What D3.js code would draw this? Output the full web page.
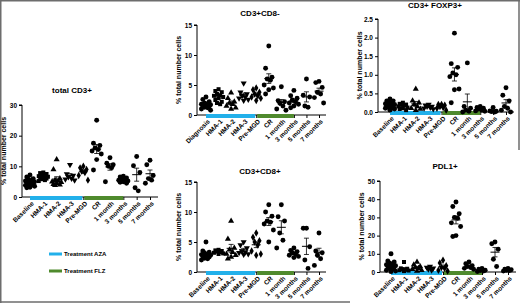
<!DOCTYPE html>
<html>
<head>
<meta charset="utf-8">
<script src="https://cdn.jsdelivr.net/npm/d3@7"></script>
<style>
  body { margin: 0; background: #fff; }
  svg { font-family: "Liberation Sans", Arial, sans-serif; }
</style>
</head>
<body>
<svg id="chart" width="520" height="303"></svg>
<script>
// categories
const catsBaseline = ["Baseline", "HMA-1", "HMA-2", "HMA-3", "Pre-MGD", "CR", "1 month", "3 months", "5 months", "7 months"];
const catsDiagnosis = ["Diagnosis", "HMA-1", "HMA-2", "HMA-3", "Pre-MGD", "CR", "1 month", "3 months", "5 months", "7 months"];

// values, one array per category
const totalCD3 = [
    [7.2, 6.5, 6, 5.5, 5.2, 5, 4.8, 4.5, 4.2, 4, 3.8, 3.5, 3.2, 3, 5.8, 4.6],
    [8, 7.5, 7.2, 7, 6.8, 6.5, 6.2, 6, 5.8, 5.5, 5.2, 6.6, 7.8],
    [12.2, 9, 6, 5.5, 5, 4.8, 4.5, 4.2, 4, 5.2, 3.8],
    [10.5, 7, 6.5, 6, 5.8, 5.5, 7.5],
    [10, 9.5, 9, 8.5, 8, 7, 5.5],
    [25, 17.5, 16.8, 16, 15.5, 15, 14, 12.2, 8.8],
    [12.8, 11, 10.5, 10, 9.5, 5],
    [6.8, 6.5, 6, 5.8, 5.5, 5.2, 5, 4.8, 4.5, 6.2],
    [13.2, 10.2, 8, 3, 2],
    [12, 10.5, 7, 6, 5.5, 4.5]
];
const cd8neg = [
    [3, 2.6, 2.2, 2, 1.8, 1.6, 1.5, 1.4, 1.2, 1, 0.8, 1.9, 1.7, 1.3],
    [4.3, 4, 3.8, 3.5, 3.2, 3, 2.8, 2.5, 2.2, 2, 1.8, 3.3],
    [3.7, 2.8, 2.2, 2, 1.8, 1.5, 1.2, 1],
    [5.3, 3.8, 3.5, 3.2, 3, 2.8, 2.6, 2.4],
    [4.5, 4.2, 3.8, 3.5, 3.2, 3, 2.8, 2.4],
    [11.5, 7.8, 6.3, 6, 5.8, 5, 4.5, 4.2, 3.5],
    [4.7, 2.4, 2.2, 2, 1.5, 1, 0.8],
    [4.1, 3.2, 2.8, 2.5, 2.2, 2, 1.8, 1.5, 1.2],
    [6, 3.3, 3, 1.5, 1.3],
    [5.6, 5.4, 4.6, 3.8, 3.5, 2.9, 2]
];
const foxp3 = [
    [0.35, 0.3, 0.28, 0.25, 0.22, 0.2, 0.18, 0.15, 0.12, 0.1, 0.08, 0.05, 0.3, 0.2, 0.1],
    [0.25, 0.22, 0.2, 0.18, 0.15, 0.12, 0.1, 0.08, 0.05, 0.2],
    [0.62, 0.3, 0.25, 0.2, 0.15, 0.1, 0.08, 0.05],
    [0.2, 0.18, 0.15, 0.12, 0.1, 0.08, 0.15],
    [0.2, 0.18, 0.15, 0.12, 0.1, 0.2, 0.05],
    [2.12, 1.3, 1.2, 1.05, 1.0, 0.95, 0.62, 0.6, 0.25],
    [1.32, 0.15, 0.1, 0.05, 0.02, 0.0],
    [0.15, 0.12, 0.08, 0.05, 0.03, 0.02, 0.1],
    [0.12, 0.03, 0.02, 0.01, 0],
    [0.65, 0.45, 0.3, 0.15, 0.1, 0.05, 0.0]
];
const cd8pos = [
    [5, 3.5, 3.2, 3, 2.8, 2.6, 2.5, 2.3, 2.2, 2, 3.3, 2.7, 2.9],
    [3.7, 3.5, 3.4, 3.3, 3.2, 3.1, 3, 3.6],
    [8.5, 5.5, 4, 3.7, 3.3, 3, 2.8, 2.5, 2.2],
    [5, 4.5, 4, 3.5, 3.2, 3, 2.9, 3.3],
    [6.5, 5.8, 5.2, 5, 4.5, 3.5, 3, 2.8],
    [11.2, 10, 9.3, 8.5, 8.3, 8, 7, 5],
    [11.2, 9.2, 8.5, 6.5, 5.3, 4],
    [4, 3.6, 3.2, 3, 2.8, 2.6, 2.4, 3.4],
    [7.3, 7.3, 4.2, 2, 0.6],
    [6.5, 3.5, 3.2, 2.8, 2.2, 1.1]
];
const pdl1 = [
    [10, 6, 5, 4.5, 4, 3.5, 3, 2.5, 2, 1.5, 1, 0.5, 0.2, 5.5, 3],
    [5.5, 2, 1.5, 1.2, 1, 0.8, 0.5, 1.8],
    [5.5, 4, 3, 2.5, 2, 1.5, 1, 0.5],
    [3, 2.5, 2, 1.5, 1],
    [6.5, 5, 3.5, 2.5, 2, 1, 0.5],
    [38.5, 36, 32, 30, 29.5, 27, 25, 20, 19.5],
    [5.5, 4.5, 3.5, 3, 2.5, 2, 1.5],
    [2, 1.5, 1, 0.8, 0.5, 0.3],
    [16.5, 15.5, 12.5, 7, 3],
    [2, 1.5, 1.2, 1, 0.8, 0.5]
];

const yTicksA = [0, 10, 20, 30];
const yTicksB = [0, 5, 10, 15];
const yTicksC = [0, 0.5, 1.0, 1.5, 2.0, 2.5];
const yTicksD = [0, 10, 20, 30, 40, 50];

const legendLabels = ["Treatment AZA", "Treatment FLZ"];

const blue = "#22b0ea";
const green = "#4f8a2d";

const panels = [
    { title: "total CD3+", cats: catsBaseline, data: totalCD3, ticks: yTicksA, fmt: d3.format("d"),
      axisX: 22, x0: 30, x1: 150, xEnd: 158, y0: 197, y1: 105, titleX: 72, titleY: 93 },
    { title: "CD3+CD8-", cats: catsDiagnosis, data: cd8neg, ticks: yTicksB, fmt: d3.format("d"),
      axisX: 197, x0: 206, x1: 319, xEnd: 326, y0: 115, y1: 25, titleX: 260, titleY: 16 },
    { title: "CD3+ FOXP3+", cats: catsBaseline, data: foxp3, ticks: yTicksC, fmt: d3.format(".1f"),
      axisX: 378, x0: 390, x1: 506, xEnd: 514, y0: 112, y1: 19, titleX: 435, titleY: 8 },
    { title: "CD3+CD8+", cats: catsBaseline, data: cd8pos, ticks: yTicksB, fmt: d3.format("d"),
      axisX: 197, x0: 206, x1: 319, xEnd: 326, y0: 272, y1: 182, titleX: 260, titleY: 174 },
    { title: "PDL1+", cats: catsBaseline, data: pdl1, ticks: yTicksD, fmt: d3.format("d"),
      axisX: 380, x0: 391, x1: 508, xEnd: 516, y0: 272, y1: 181, titleX: 445, titleY: 169 }
];

const svg = d3.select("#chart");

// gray frame pieces
const frame = svg.append("g").attr("stroke", "#6d6d6d").attr("stroke-width", 1.5);
frame.append("line").attr("x1", 0).attr("x2", 520).attr("y1", 0.75).attr("y2", 0.75);
frame.append("line").attr("x1", 0.75).attr("x2", 0.75).attr("y1", 0).attr("y2", 303);
frame.append("line").attr("x1", 0).attr("x2", 350).attr("y1", 302).attr("y2", 302);
frame.append("line").attr("x1", 519).attr("x2", 519).attr("y1", 0).attr("y2", 150);

// marker shape per category
const shapeFor = i => [d3.symbolCircle, d3.symbolSquare, d3.symbolTriangle, d3.symbolTriangle, d3.symbolDiamond][i] || d3.symbolCircle;
const jitter = [0, -3.2, 3.2, -1.6, 1.6, -4.6, 4.6];

panels.forEach(p => {
    const g = svg.append("g");

    const x = d3.scalePoint().domain(p.cats).range([p.x0, p.x1]);
    const y = d3.scaleLinear().domain([p.ticks[0], p.ticks[p.ticks.length - 1]]).range([p.y0, p.y1]);

    // y axis
    const yAxis = g.append("g")
        .attr("transform", `translate(${p.axisX},0)`)
        .call(d3.axisLeft(y).tickValues(p.ticks).tickFormat(p.fmt).tickSize(3).tickPadding(2));
    yAxis.select(".domain").attr("d", `M-3,${p.y1}H0V${p.y0}`);

    // x axis
    const xAxis = g.append("g")
        .attr("transform", `translate(0,${p.y0})`)
        .call(d3.axisBottom(x).tickSize(3).tickPadding(2));
    xAxis.select(".domain").attr("d", `M${p.axisX},0H${p.xEnd}`);
    xAxis.selectAll("text")
        .attr("text-anchor", "end")
        .attr("dy", "0.3em")
        .attr("transform", "translate(-1,2) rotate(-45)");

    g.selectAll(".tick text").attr("font-size", 6.5).attr("font-weight", "bold").attr("fill", "#000");
    g.selectAll(".tick line, .domain").attr("stroke", "#000");

    // treatment bars on the x axis
    g.append("line")
        .attr("x1", x(p.cats[0])).attr("x2", x(p.cats[4]) - 1)
        .attr("y1", p.y0 + 1).attr("y2", p.y0 + 1)
        .attr("stroke", blue).attr("stroke-width", 4);
    g.append("line")
        .attr("x1", x(p.cats[4]) + 1).attr("x2", x(p.cats[7]))
        .attr("y1", p.y0 + 1).attr("y2", p.y0 + 1)
        .attr("stroke", green).attr("stroke-width", 4);

    // points
    p.data.forEach((vals, ci) => {
        const cx = x(p.cats[ci]);
        const sorted = vals.slice().sort((a, b) => b - a);
        const sym = d3.symbol().type(shapeFor(ci)).size(ci === 0 || ci >= 5 ? 19 : 16);
        g.selectAll(null)
            .data(sorted)
            .enter()
            .append("path")
            .attr("d", sym)
            .attr("transform", (d, i) => `translate(${cx + jitter[i % jitter.length]},${y(d)})${ci === 3 ? " rotate(180)" : ""}`)
            .attr("fill", "#000");

        // mean and SEM
        const m = d3.mean(vals);
        const sem = d3.deviation(vals) / Math.sqrt(vals.length);
        g.append("line").attr("x1", cx - 4.5).attr("x2", cx + 4.5).attr("y1", y(m)).attr("y2", y(m))
            .attr("stroke", "#000").attr("stroke-width", 1);
        g.append("line").attr("x1", cx).attr("x2", cx).attr("y1", y(m - sem)).attr("y2", y(m + sem))
            .attr("stroke", "#000").attr("stroke-width", 0.8);
        [m - sem, m + sem].forEach(v => {
            g.append("line").attr("x1", cx - 2.5).attr("x2", cx + 2.5).attr("y1", y(v)).attr("y2", y(v))
                .attr("stroke", "#000").attr("stroke-width", 0.8);
        });
    });

    // title
    g.append("text")
        .attr("x", p.titleX).attr("y", p.titleY)
        .attr("text-anchor", "middle")
        .attr("font-size", 8).attr("font-weight", "bold")
        .text(p.title);

    // y axis title
    g.append("text")
        .attr("transform", `translate(${p.axisX - 16},${(p.y0 + p.y1) / 2}) rotate(-90)`)
        .attr("text-anchor", "middle")
        .attr("font-size", 7).attr("font-weight", "bold")
        .text("% total number cells");
});

// legend
const legend = svg.selectAll(".legend")
    .data(legendLabels)
    .enter()
    .append("g")
    .attr("class", "legend")
    .attr("transform", (d, i) => `translate(49, ${254 + i * 17})`);

legend.append("line")
    .attr("x1", 0).attr("x2", 13)
    .attr("stroke", (d, i) => i === 0 ? blue : green)
    .attr("stroke-width", 3);

legend.append("text")
    .attr("x", 15)
    .attr("y", 2.3)
    .attr("font-size", 6)
    .attr("font-weight", "bold")
    .text(d => d);
</script>
</body>
</html>
